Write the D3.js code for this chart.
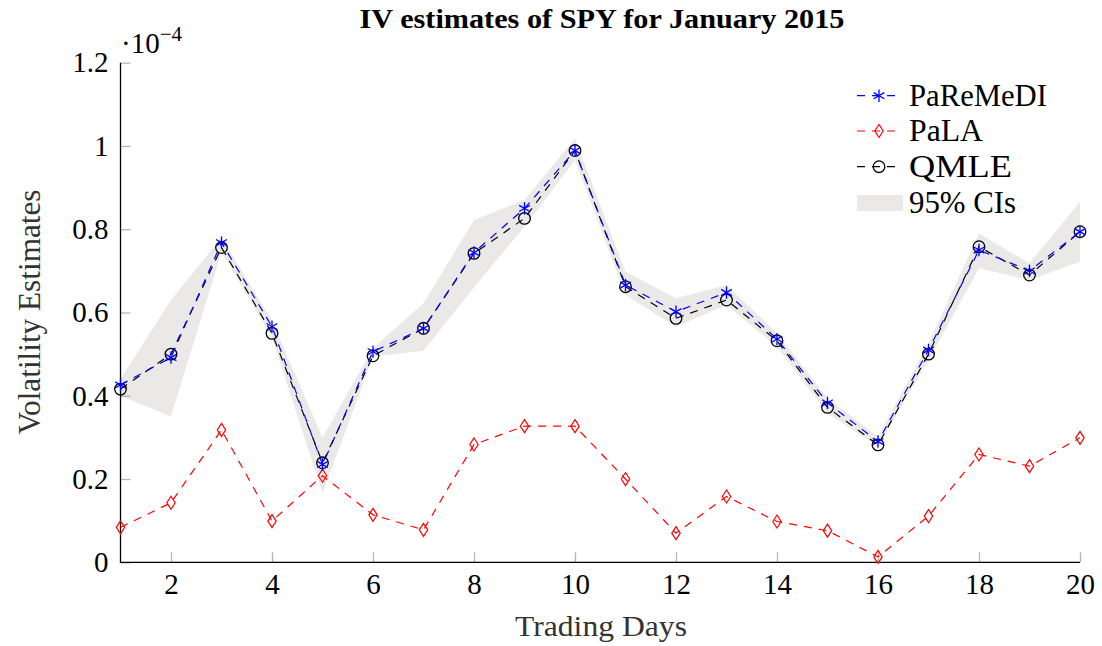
<!DOCTYPE html>
<html>
<head>
<meta charset="utf-8">
<script src="https://cdn.jsdelivr.net/npm/d3@7"></script>
<style>
  html, body { margin: 0; padding: 0; background: #fff; }
  svg { display: block; }
  svg text { font-family: "Liberation Serif", "Times New Roman", Times, serif; }
</style>
</head>
<body>
<svg id="chart" width="1102" height="646"></svg>
<script>
const days = [1,2,3,4,5,6,7,8,9,10,11,12,13,14,15,16,17,18,19,20];
const paremedi = [0.426,0.492,0.768,0.566,0.235,0.506,0.562,0.744,0.850,0.989,0.666,0.602,0.648,0.536,0.383,0.290,0.510,0.750,0.700,0.794];
const pala     = [0.084,0.143,0.318,0.099,0.208,0.114,0.078,0.283,0.327,0.327,0.200,0.070,0.158,0.098,0.076,0.013,0.111,0.259,0.231,0.299];
const qmle     = [0.416,0.500,0.756,0.550,0.239,0.496,0.562,0.742,0.826,0.989,0.662,0.586,0.630,0.532,0.372,0.282,0.500,0.758,0.690,0.794];
const ciUpper  = [0.440,0.630,0.780,0.580,0.300,0.515,0.622,0.822,0.870,1.018,0.698,0.634,0.666,0.550,0.394,0.302,0.526,0.790,0.718,0.866];
const ciLower  = [0.400,0.350,0.745,0.540,0.166,0.494,0.508,0.660,0.806,0.966,0.642,0.566,0.618,0.518,0.358,0.278,0.486,0.706,0.678,0.722];
const xTicks = [2,4,6,8,10,12,14,16,18,20];
const yTicks = [0,0.2,0.4,0.6,0.8,1,1.2];
const legendLabels = ["PaReMeDI","PaLA","QMLE","95% CIs"];

const svg = d3.select("#chart");
const x = d3.scaleLinear().domain([1,20]).range([120.5,1080]);
const y = d3.scaleLinear().domain([0,1.2]).range([562.3,62.7]);

const bandColor = "#ebe8e8";
const dash = "8,7";

// CI band
const area = d3.area().x((d,i)=>x(days[i])).y0((d,i)=>y(ciLower[i])).y1((d,i)=>y(ciUpper[i]));
svg.append("path").datum(days).attr("d", area).attr("fill", bandColor);

// ticks (grey, inward)
const xAxis = d3.axisBottom(x).tickValues(xTicks).tickSize(-10).tickFormat(d3.format("d")).tickPadding(14);
const gx = svg.append("g").attr("transform", `translate(0,${y(0)})`).call(xAxis).attr("font-family", null);
gx.select(".domain").remove();
gx.selectAll(".tick line").attr("stroke","#b5b5b5").attr("stroke-width",1.3);
gx.selectAll(".tick text").attr("font-size",29).attr("fill","#000").attr("dy","0.71em").attr("y", 11);

const yAxis = d3.axisLeft(y).tickValues(yTicks).tickSize(-10).tickPadding(12)
  .tickFormat(d => d===0 ? "0" : (d===1 ? "1" : d3.format(".1f")(d)));
const gy = svg.append("g").attr("transform", `translate(${x(1)},0)`).call(yAxis).attr("font-family", null);
gy.select(".domain").remove();
gy.selectAll(".tick line").attr("stroke","#b5b5b5").attr("stroke-width",1.3);
gy.selectAll(".tick text").attr("font-size",29).attr("fill","#000");

// axis lines
svg.append("line").attr("x1",x(1)).attr("x2",x(1)).attr("y1",y(1.2)).attr("y2",y(0)+0.6)
  .attr("stroke","#000").attr("stroke-width",1.3);
svg.append("line").attr("x1",x(1)-0.6).attr("x2",x(20)).attr("y1",y(0)).attr("y2",y(0))
  .attr("stroke","#000").attr("stroke-width",1.3);

// marker helpers
function asterisk(g, cx, cy, r, color){
  [90, 30, 150].forEach(a=>{
    const rad = a*Math.PI/180;
    g.append("line").attr("x1",cx-r*Math.cos(rad)).attr("y1",cy-r*Math.sin(rad))
      .attr("x2",cx+r*Math.cos(rad)).attr("y2",cy+r*Math.sin(rad))
      .attr("stroke",color).attr("stroke-width",1.3);
  });
}
function circle(g, cx, cy, r, color){
  g.append("circle").attr("cx",cx).attr("cy",cy).attr("r",r).attr("fill","none")
    .attr("stroke",color).attr("stroke-width",1.3);
}
function diamond(g, cx, cy, color){
  g.append("path").attr("d",`M${cx},${cy-6.5}L${cx+4.2},${cy}L${cx},${cy+6.5}L${cx-4.2},${cy}Z`)
    .attr("fill","none").attr("stroke",color).attr("stroke-width",1.2);
}

const line = vals => d3.line().x((d,i)=>x(days[i])).y((d,i)=>y(vals[i]))(vals);

// PaLA (red)
svg.append("path").attr("d", line(pala)).attr("fill","none").attr("stroke","#ff0000")
  .attr("stroke-width",1.2).attr("stroke-dasharray",dash);
const gR = svg.append("g");
pala.forEach((v,i)=>diamond(gR, x(days[i]), y(v), "#ff0000"));

// QMLE (black)
svg.append("path").attr("d", line(qmle)).attr("fill","none").attr("stroke","#000")
  .attr("stroke-width",1.2).attr("stroke-dasharray",dash);
const gK = svg.append("g");
qmle.forEach((v,i)=>circle(gK, x(days[i]), y(v), 5.8, "#000"));

// PaReMeDI (blue)
svg.append("path").attr("d", line(paremedi)).attr("fill","none").attr("stroke","#0000ff")
  .attr("stroke-width",1.2).attr("stroke-dasharray",dash);
const gB = svg.append("g");
paremedi.forEach((v,i)=>asterisk(gB, x(days[i]), y(v), 6.2, "#0000ff"));

// scale label
const sl = svg.append("text").attr("x",121).attr("y",53).attr("font-size",29).attr("fill","#000");
sl.append("tspan").text("·10");
sl.append("tspan").attr("font-size",21).attr("dy",-12).text("−4");

// title
svg.append("text").attr("x",602).attr("y",28).attr("text-anchor","middle")
  .attr("font-size",27).attr("font-weight","bold").attr("textLength",485)
  .attr("lengthAdjust","spacingAndGlyphs").text("IV estimates of SPY for January 2015");

// axis titles
svg.append("text").attr("x",601).attr("y",636).attr("text-anchor","middle")
  .attr("font-size",30).attr("textLength",172).attr("lengthAdjust","spacingAndGlyphs")
  .attr("fill","#333").text("Trading Days");
svg.append("text").attr("transform","translate(40,312) rotate(-90)").attr("text-anchor","middle")
  .attr("font-size",32).attr("textLength",245).attr("lengthAdjust","spacingAndGlyphs")
  .attr("fill","#333").text("Volatility Estimates");

// legend
const lg = svg.append("g");
const rows = [95.7, 131, 166.7, 203];
const lx0 = 857, lx1 = 901, lm = 879;
const colors = ["#0000ff","#ff0000","#000"];
[0,1,2].forEach(k=>{
  lg.append("line").attr("x1",lx0).attr("x2",lx1).attr("y1",rows[k]).attr("y2",rows[k])
    .attr("stroke",colors[k]).attr("stroke-width",1.2).attr("stroke-dasharray",dash);
});
asterisk(lg, lm, rows[0], 6.2, "#0000ff");
diamond(lg, lm, rows[1], "#ff0000");
circle(lg, lm, rows[2], 5.8, "#000");
lg.append("rect").attr("x",857).attr("y",195).attr("width",46).attr("height",16).attr("fill",bandColor);
const lw = [138, 74, 103, 107];
legendLabels.forEach((t,k)=>{
  lg.append("text").attr("x",909).attr("y",rows[k]+10).attr("font-size",31)
    .attr("textLength",lw[k]).attr("lengthAdjust","spacingAndGlyphs").text(t);
});
</script>
</body>
</html>
